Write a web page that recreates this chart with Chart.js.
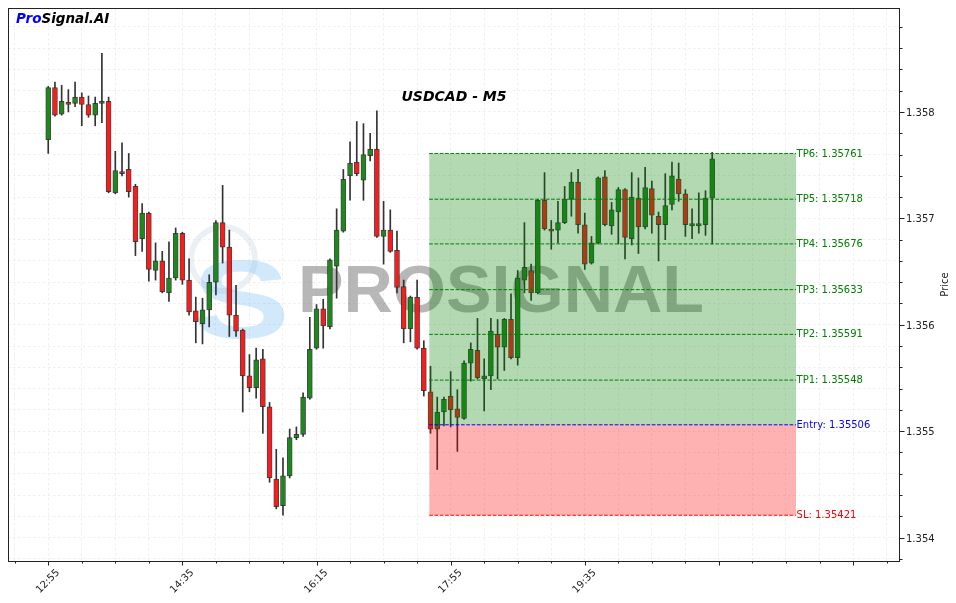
<!DOCTYPE html>
<html>
<head>
<meta charset="utf-8">
<script src="https://cdn.jsdelivr.net/npm/chart.js@4.4.0/dist/chart.umd.min.js"></script>
<style>
  html, body { margin: 0; padding: 0; background: #fff; }
  #wrap { width: 956px; height: 603px; }
</style>
</head>
<body>
<div id="wrap"><canvas id="chart" width="956" height="603"></canvas></div>
<script>
/* USDCAD M5 – velas + zona de señal */

// ---- datos (velas de 5 min, índice 0 = 12:55) ----
const opens = [
  1.35774,1.35823,1.35798,1.35809,1.35808,1.35814,1.35807,1.35797,1.35808,1.35810,
  1.35724,1.35744,1.35746,1.35730,1.35681,1.35705,1.35651,1.35660,1.35630,1.35644,
  1.35686,1.35642,1.35613,1.35601,1.35614,1.35640,1.35696,1.35673,1.35609,1.35595,
  1.35552,1.35541,1.35568,1.35523,1.35455,1.35430,1.35458,1.35494,1.35497,1.35531,
  1.35578,1.35615,1.35598,1.35655,1.35688,1.35740,1.35753,1.35736,1.35759,1.35765,
  1.35683,1.35689,1.35670,1.35636,1.35596,1.35626,1.35578,1.35537,1.35502,1.35518,
  1.35533,1.35521,1.35512,1.35564,1.35576,1.35549,1.35552,1.35591,1.35579,1.35605,
  1.35569,1.35642,1.35651,1.35630,1.35717,1.35690,1.35689,1.35696,1.35718,1.35734,
  1.35694,1.35658,1.35677,1.35739,1.35693,1.35706,1.35727,1.35681,1.35719,1.35692,
  1.35728,1.35702,1.35694,1.35713,1.35737,1.35723,1.35693,1.35693,1.35694,1.35719
];
const highs = [
  1.35824,1.35828,1.35825,1.35821,1.35828,1.35818,1.35815,1.35814,1.35855,1.35814,
  1.35763,1.35771,1.35761,1.35732,1.35714,1.35706,1.35677,1.35669,1.35678,1.35691,
  1.35687,1.35662,1.35626,1.35625,1.35647,1.35698,1.35731,1.35689,1.35637,1.35596,
  1.35572,1.35578,1.35577,1.35527,1.35483,1.35475,1.35502,1.35504,1.35536,1.35607,
  1.35619,1.35624,1.35662,1.35709,1.35746,1.35772,1.35791,1.35789,1.35780,1.35801,
  1.35716,1.35708,1.35688,1.35642,1.35627,1.35642,1.35585,1.35561,1.35532,1.35532,
  1.35556,1.35539,1.35566,1.35583,1.35606,1.35568,1.35606,1.35605,1.35606,1.35629,
  1.35651,1.35696,1.35657,1.35718,1.35743,1.35698,1.35716,1.35730,1.35743,1.35746,
  1.35705,1.35683,1.35739,1.35745,1.35715,1.35729,1.35728,1.35743,1.35738,1.35748,
  1.35735,1.35706,1.35742,1.35753,1.35752,1.35727,1.35709,1.35724,1.35726,1.35762
];
const lows = [
  1.35761,1.35796,1.35797,1.35800,1.35805,1.35787,1.35795,1.35787,1.35790,1.35724,
  1.35723,1.35740,1.35720,1.35665,1.35669,1.35641,1.35642,1.35630,1.35622,1.35642,
  1.35638,1.35609,1.35583,1.35582,1.35598,1.35628,1.35658,1.35589,1.35589,1.35518,
  1.35537,1.35531,1.35498,1.35452,1.35427,1.35421,1.35456,1.35492,1.35495,1.35530,
  1.35577,1.35578,1.35596,1.35625,1.35687,1.35717,1.35740,1.35717,1.35754,1.35682,
  1.35657,1.35668,1.35630,1.35583,1.35584,1.35577,1.35533,1.35498,1.35464,1.35505,
  1.35504,1.35481,1.35511,1.35547,1.35549,1.35519,1.35539,1.35549,1.35557,1.35568,
  1.35562,1.35630,1.35623,1.35629,1.35689,1.35671,1.35677,1.35695,1.35702,1.35686,
  1.35652,1.35657,1.35676,1.35693,1.35685,1.35676,1.35662,1.35675,1.35667,1.35690,
  1.35686,1.35660,1.35680,1.35708,1.35716,1.35683,1.35681,1.35686,1.35684,1.35676
];
const closes = [
  1.35823,1.35797,1.35810,1.35807,1.35814,1.35807,1.35797,1.35808,1.35810,1.35725,
  1.35745,1.35742,1.35725,1.35678,1.35705,1.35652,1.35660,1.35631,1.35644,1.35686,
  1.35642,1.35612,1.35603,1.35614,1.35640,1.35696,1.35673,1.35609,1.35594,1.35552,
  1.35541,1.35567,1.35523,1.35456,1.35429,1.35458,1.35494,1.35497,1.35532,1.35577,
  1.35615,1.35599,1.35661,1.35689,1.35737,1.35752,1.35742,1.35760,1.35765,1.35683,
  1.35689,1.35669,1.35635,1.35596,1.35626,1.35578,1.35538,1.35502,1.35518,1.35530,
  1.35520,1.35513,1.35564,1.35577,1.35550,1.35552,1.35594,1.35579,1.35605,1.35569,
  1.35644,1.35654,1.35630,1.35717,1.35690,1.35688,1.35696,1.35718,1.35734,1.35694,
  1.35657,1.35677,1.35738,1.35694,1.35708,1.35727,1.35682,1.35720,1.35692,1.35729,
  1.35703,1.35694,1.35712,1.35740,1.35723,1.35694,1.35695,1.35695,1.35719,1.35756
];

// etiquetas del eje x (índice de vela -> hora)
const xLabelIdx  = [0, 20, 40, 60, 80];
const xLabelText = ['12:55', '14:35', '16:15', '17:55', '19:35'];
// etiquetas del eje y
const yLabelVals = [1.354, 1.355, 1.356, 1.357, 1.358];

// niveles de la señal
const levelNames  = ['TP6', 'TP5', 'TP4', 'TP3', 'TP2', 'TP1', 'Entry', 'SL'];
const levelValues = [1.35761, 1.35718, 1.35676, 1.35633, 1.35591, 1.35548, 1.35506, 1.35421];
const zoneFrom = 56.8, zoneTo = 111.5;   // índices de vela

// ---- estilos ----
const GREEN = '#1b8a1b', RED = '#ff1a1a', EDGE = 'rgba(40,40,40,0.85)';
const levelColor = n => n.startsWith('TP') ? '#008000' : (n === 'Entry' ? '#0000ff' : '#ff0000');
const FONT = '"DejaVu Sans", sans-serif';

const entry = levelValues[levelNames.indexOf('Entry')];
const tp6   = levelValues[levelNames.indexOf('TP6')];
const sl    = levelValues[levelNames.indexOf('SL')];

const bodies = opens.map((o, i) => ({ x: i, y: [o, closes[i]] }));
const wicks  = lows.map((l, i) => ({ x: i, y: [l, highs[i]] }));
const bodyColors = opens.map((o, i) => closes[i] >= o ? GREEN : RED);

const xTicks = [];
for (let v = -5; v <= 125; v += 5) xTicks.push(v);
const yTicks = [];
for (let k = 13538; k <= 13588; k += 2) yTicks.push(k / 10000);
const isMajorY = v => yLabelVals.some(m => Math.abs(m - v) < 1e-7);

const levelLines = levelNames.map((n, k) => ({
  type: 'line',
  data: [{ x: zoneFrom, y: levelValues[k] }, { x: zoneTo, y: levelValues[k] }],
  borderColor: levelColor(n), borderWidth: 1, borderDash: [3.7, 1.6],
  pointRadius: 0, fill: false
}));

const zoneBox = (top, color) => ({
  type: 'line',
  data: [{ x: zoneFrom, y: top }, { x: zoneTo, y: top }],
  borderColor: 'rgba(0,0,0,0)', borderWidth: 0, pointRadius: 0,
  fill: { value: entry }, backgroundColor: color
});

/* ---------- plugin: marca de agua ---------- */
const watermark = {
  id: 'watermark',
  beforeDatasetsDraw(chart) {
    const { ctx, chartArea: a } = chart;
    ctx.save();
    ctx.beginPath(); ctx.rect(a.left, a.top, a.right - a.left, a.bottom - a.top); ctx.clip();
    // anillo del logo
    ctx.strokeStyle = 'rgba(175,195,215,0.25)'; ctx.lineWidth = 6;
    ctx.beginPath(); ctx.arc(223, 259, 32, 0, Math.PI * 2); ctx.stroke();
    // "S" azul
    ctx.fillStyle = 'rgba(90,175,245,0.27)';
    ctx.font = 'bold 112px "Liberation Sans"';
    let w = ctx.measureText('S').width;
    ctx.save(); ctx.translate(192, 338); ctx.scale(98 / w, 1); ctx.fillText('S', 0, 0); ctx.restore();
    // PROSIGNAL
    ctx.fillStyle = 'rgba(105,105,105,0.48)';
    ctx.font = 'bold 67px "Liberation Sans"';
    w = ctx.measureText('PROSIGNAL').width;
    ctx.save(); ctx.translate(298, 312); ctx.scale(406 / w, 1); ctx.fillText('PROSIGNAL', 0, 0); ctx.restore();
    ctx.restore();
  }
};

/* ---------- plugin: marco, ticks y textos ---------- */
const decor = {
  id: 'decor',
  afterDraw(chart) {
    const { ctx, chartArea: a, scales: { x, y } } = chart;
    ctx.save();
    // marco
    ctx.strokeStyle = '#222'; ctx.lineWidth = 1;
    ctx.strokeRect(a.left + 0.5, a.top + 0.5, a.right - a.left - 1, a.bottom - a.top);
    // ticks
    ctx.beginPath();
    xTicks.forEach(v => {
      const px = Math.round(x.getPixelForValue(v)) + 0.5;
      const len = v % 20 === 0 ? 4.5 : 2.5;
      ctx.moveTo(px, a.bottom); ctx.lineTo(px, a.bottom + len);
    });
    yTicks.forEach(v => {
      const py = Math.round(y.getPixelForValue(v)) + 0.5;
      const len = isMajorY(v) ? 4.5 : 2.5;
      ctx.moveTo(a.right, py); ctx.lineTo(a.right + len, py);
    });
    ctx.stroke();

    // etiquetas de niveles
    ctx.font = '10px ' + FONT; ctx.textBaseline = 'middle'; ctx.textAlign = 'left';
    const lx = x.getPixelForValue(zoneTo) + 0.5;
    levelNames.forEach((n, k) => {
      ctx.fillStyle = levelColor(n);
      ctx.fillText(n + ': ' + levelValues[k].toFixed(5), lx, y.getPixelForValue(levelValues[k]) + 0.5);
    });

    // título
    ctx.fillStyle = '#000'; ctx.textAlign = 'center';
    ctx.font = 'italic bold 14px ' + FONT;
    ctx.fillText('USDCAD - M5', (a.left + a.right) / 2, 97);

    // marca
    ctx.textAlign = 'left'; ctx.font = 'italic bold 13.5px ' + FONT;
    ctx.fillStyle = '#0000ff'; ctx.fillText('Pro', 16, 19);
    const pw = ctx.measureText('Pro').width;
    ctx.fillStyle = '#000'; ctx.fillText('Signal.AI', 16 + pw, 19);

    // título eje y
    ctx.font = '10px ' + FONT; ctx.fillStyle = '#222';
    ctx.translate(945, (a.top + a.bottom) / 2); ctx.rotate(-Math.PI / 2);
    ctx.textAlign = 'center'; ctx.fillText('Price', 0, 0);
    ctx.restore();
  }
};

new Chart(document.getElementById('chart'), {
  type: 'bar',
  data: {
    datasets: [
      ...levelLines,
      zoneBox(tp6, 'rgba(0,128,0,0.3)'),
      zoneBox(sl, 'rgba(255,0,0,0.3)'),
      { type: 'bar', data: bodies, backgroundColor: bodyColors, borderColor: EDGE,
        borderWidth: 1, borderSkipped: false, barThickness: 5, grouped: false },
      { type: 'bar', data: wicks, backgroundColor: '#333', borderWidth: 0,
        barThickness: 1, grouped: false }
    ]
  },
  options: {
    responsive: false,
    animation: false,
    devicePixelRatio: 1,
    layout: { padding: { left: 8, top: 8, right: 0, bottom: 0 } },
    plugins: { legend: { display: false }, tooltip: { enabled: false } },
    scales: {
      x: {
        type: 'linear', min: -6, max: 127, offset: false,
        grid: { offset: false, color: '#efefef', drawTicks: false },
        border: { display: false, dash: [2.5, 2.5] },
        afterBuildTicks: s => { s.ticks = xTicks.map(v => ({ value: v })); },
        afterFit: s => { s.height = 42; s.paddingLeft = 0; s.paddingRight = 0; },
        ticks: {
          autoSkip: false, minRotation: 45, maxRotation: 45, padding: 6, labelOffset: 10,
          color: '#222', font: { family: FONT, size: 10 },
          callback: v => { const k = xLabelIdx.indexOf(v); return k >= 0 ? xLabelText[k] : ''; }
        }
      },
      y: {
        type: 'linear', position: 'right', min: 1.35378, max: 1.358977, beginAtZero: false,
        grid: { color: '#efefef', drawTicks: false },
        border: { display: false, dash: [2.5, 2.5] },
        afterBuildTicks: s => { s.ticks = yTicks.map(v => ({ value: v })); },
        afterFit: s => { s.width = 56; s.paddingTop = 0; s.paddingBottom = 0; },
        ticks: {
          padding: 6, labelOffset: 1.5, color: '#222', font: { family: FONT, size: 10 },
          callback: v => isMajorY(v) ? v.toFixed(3) : ''
        }
      }
    }
  },
  plugins: [watermark, decor]
});
</script>
</body>
</html>
